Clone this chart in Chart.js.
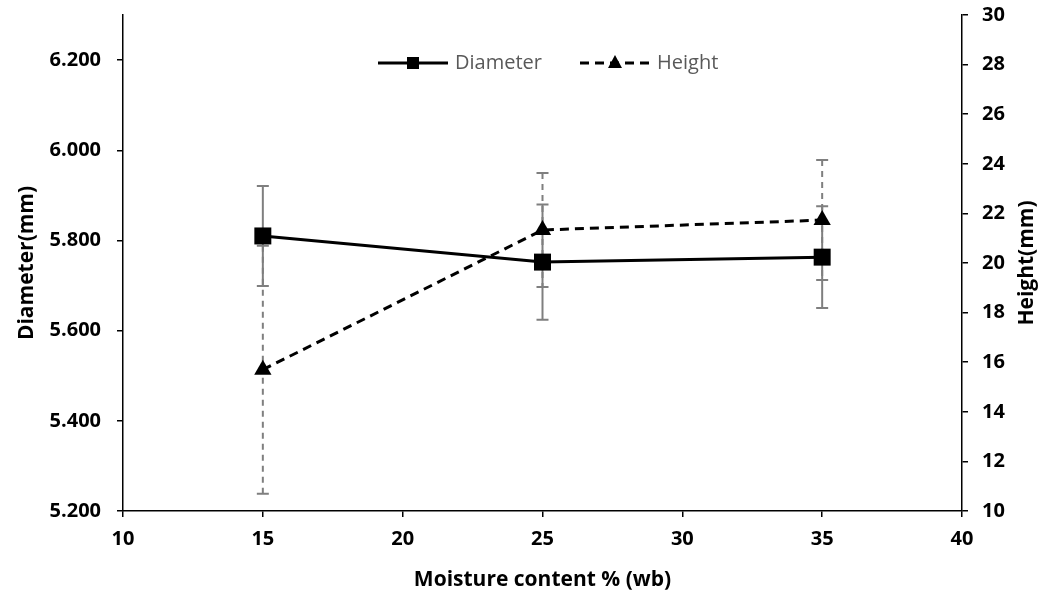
<!DOCTYPE html>
<html>
<head>
<meta charset="utf-8">
<script src="https://cdn.jsdelivr.net/npm/chart.js@4.4.1/dist/chart.umd.min.js"></script>
<style>
  html, body { margin: 0; padding: 0; background: #ffffff; }
  #wrap { width: 1053px; height: 597px; }
</style>
</head>
<body>
<div id="wrap"><canvas id="c" width="1053" height="597"></canvas></div>
<script>
// Moisture content levels (% wet basis)
const moisture = [15, 25, 35];
// Mean diameter (mm) and its standard deviation
const diameter = [5.810, 5.752, 5.763];
const diameterSd = [0.111, 0.128, 0.113];
// Mean height (mm) and its standard deviation
const height = [15.70, 21.33, 21.73];
const heightSd = [5.00, 2.30, 2.42];

const FONT = "'Open Sans', 'Liberation Sans', sans-serif";

function pts(xs, ys) { return xs.map((x, i) => ({ x: x, y: ys[i] })); }

// Vertical error bars with caps, drawn underneath the series markers
const errorBars = {
  id: 'errorBars',
  beforeDatasetsDraw(chart) {
    const ctx = chart.ctx;
    const xs = chart.scales.x;
    chart.data.datasets.forEach((ds) => {
      const ys = chart.scales[ds.yAxisID];
      ctx.save();
      ctx.strokeStyle = '#7f7f7f';
      ctx.lineWidth = 2;
      ctx.setLineDash(ds.errDash);
      ds.data.forEach((p, i) => {
        const x = xs.getPixelForValue(p.x);
        const yTop = ys.getPixelForValue(p.y + ds.err[i]);
        const yBot = ys.getPixelForValue(p.y - ds.err[i]);
        ctx.beginPath();
        ctx.moveTo(x, yTop); ctx.lineTo(x, yBot);
        ctx.stroke();
        ctx.save();
        ctx.setLineDash([]);
        ctx.beginPath();
        ctx.moveTo(x - 6, yTop); ctx.lineTo(x + 6, yTop);
        ctx.moveTo(x - 6, yBot); ctx.lineTo(x + 6, yBot);
        ctx.stroke();
        ctx.restore();
      });
      ctx.restore();
    });
  }
};

// Legend inside the plot, plus the right-hand axis title read bottom-to-top
const insideLegend = {
  id: 'insideLegend',
  afterDraw(chart) {
    const ctx = chart.ctx;
    const area = chart.chartArea;
    const y = area.top + 48;
    const starts = [area.left + 255, area.left + 457];
    chart.data.datasets.forEach((ds, k) => {
      const x0 = starts[k];
      ctx.save();
      ctx.strokeStyle = '#000';
      ctx.lineWidth = 3;
      ctx.setLineDash(ds.borderDash || []);
      ctx.beginPath();
      ctx.moveTo(x0, y); ctx.lineTo(x0 + 70, y);
      ctx.stroke();
      ctx.setLineDash([]);
      ctx.fillStyle = '#000';
      const cx = x0 + 35;
      if (ds.pointStyle === 'rect') {
        ctx.fillRect(cx - 6, y - 6, 12, 12);
      } else {
        ctx.beginPath();
        ctx.moveTo(cx, y - 8);
        ctx.lineTo(cx + 7, y + 5);
        ctx.lineTo(cx - 7, y + 5);
        ctx.closePath();
        ctx.fill();
      }
      ctx.fillStyle = '#595959';
      ctx.font = "20px " + FONT;
      ctx.textBaseline = 'middle';
      ctx.textAlign = 'left';
      ctx.fillText(ds.label, x0 + 77, y);
      ctx.restore();
    });

    const r = chart.scales.y2;
    ctx.save();
    ctx.translate(r.right - 26, (area.top + area.bottom) / 2);
    ctx.rotate(-Math.PI / 2);
    ctx.fillStyle = '#000';
    ctx.font = "bold 21px " + FONT;
    ctx.textAlign = 'center';
    ctx.textBaseline = 'middle';
    ctx.fillText('Height(mm)', 0, 0);
    ctx.restore();
  }
};

const tickFont = { family: FONT, size: 20, weight: 'bold' };
const titleFont = { family: FONT, size: 21, weight: 'bold' };
const axisGrid = { drawOnChartArea: false, drawTicks: true, tickLength: 6, color: '#000', lineWidth: 1.5 };

new Chart(document.getElementById('c'), {
  type: 'line',
  data: {
    datasets: [
      {
        label: 'Diameter',
        data: pts(moisture, diameter),
        err: diameterSd,
        errDash: [],
        yAxisID: 'y',
        borderColor: '#000',
        backgroundColor: '#000',
        borderWidth: 3,
        pointStyle: 'rect',
        pointRadius: 12,
        pointBorderWidth: 0,
        tension: 0
      },
      {
        label: 'Height',
        data: pts(moisture, height),
        err: heightSd,
        errDash: [6, 5],
        yAxisID: 'y2',
        borderColor: '#000',
        backgroundColor: '#000',
        borderWidth: 3,
        borderDash: [9, 6],
        pointStyle: 'triangle',
        pointRadius: 10,
        pointBorderWidth: 0,
        tension: 0
      }
    ]
  },
  options: {
    responsive: false,
    animation: false,
    layout: { padding: { top: 15, left: 0, right: 0, bottom: 0 } },
    plugins: { legend: { display: false }, tooltip: { enabled: false } },
    scales: {
      x: {
        type: 'linear',
        min: 10, max: 40,
        ticks: { stepSize: 5, color: '#000', font: tickFont, padding: 10, maxRotation: 0 },
        grid: axisGrid,
        border: { color: '#000', width: 1.5 },
        title: { display: true, text: 'Moisture content % (wb)', color: '#000', font: titleFont, padding: { bottom: 4 } },
        afterFit(s) { s.height = 86; s.paddingLeft = 0; s.paddingRight = 0; }
      },
      y: {
        type: 'linear',
        position: 'left',
        min: 5.2, max: 6.3,
        ticks: { stepSize: 0.2, includeBounds: false, color: '#000', font: tickFont, padding: 16,
                 callback: (v) => v.toFixed(3) },
        grid: axisGrid,
        border: { color: '#000', width: 1.5 },
        title: { display: true, text: 'Diameter(mm)', color: '#000', font: titleFont, padding: { top: 14 } },
        afterFit(s) { s.width = 123; s.paddingTop = 0; s.paddingBottom = 0; }
      },
      y2: {
        type: 'linear',
        position: 'right',
        min: 10, max: 30,
        ticks: { stepSize: 2, color: '#000', font: tickFont, padding: 14 },
        grid: axisGrid,
        border: { color: '#000', width: 1.5 },
        afterFit(s) { s.width = 91; s.paddingTop = 0; s.paddingBottom = 0; }
      }
    }
  },
  plugins: [errorBars, insideLegend]
});
</script>
</body>
</html>
